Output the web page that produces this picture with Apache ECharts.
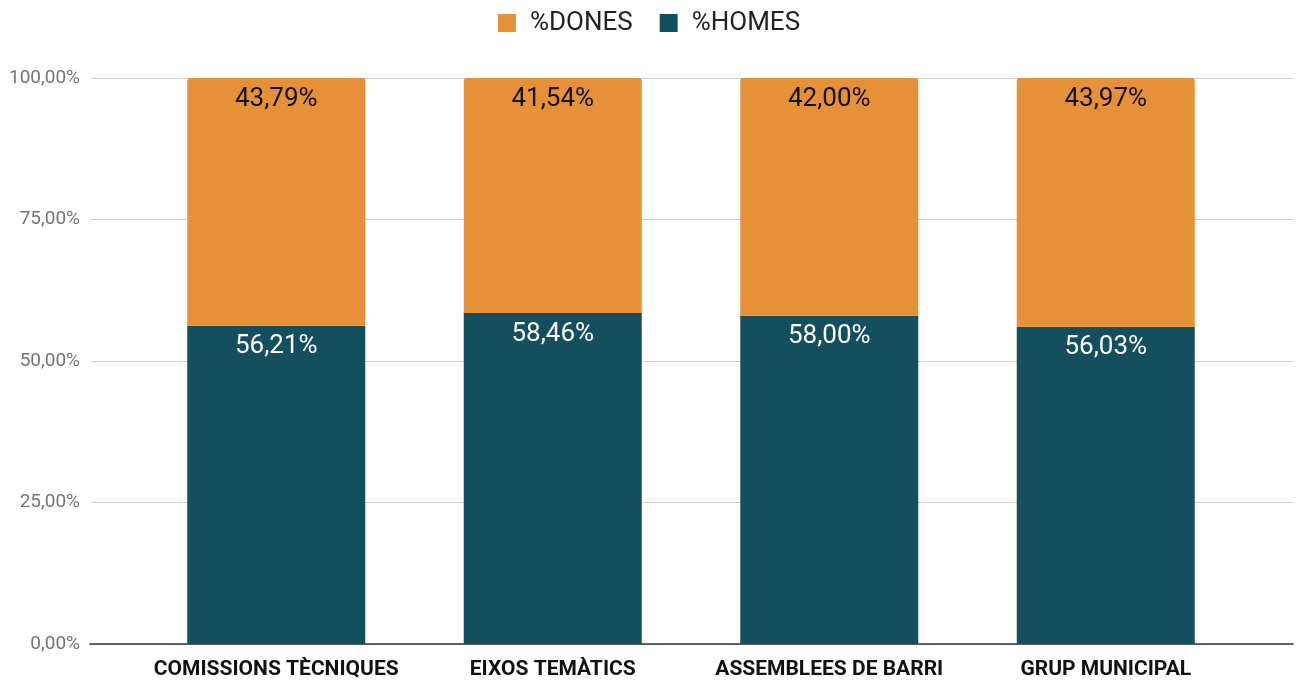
<!DOCTYPE html>
<html>
<head>
<meta charset="utf-8">
<script src="https://cdn.jsdelivr.net/npm/echarts@6/dist/echarts.min.js"></script>
<style>
  html, body { margin: 0; padding: 0; background: #fff; }
  #chart { width: 1298px; height: 682px; }
</style>
</head>
<body>
<div id="chart"></div>
<script>
var categories = ['COMISSIONS TÈCNIQUES', 'EIXOS TEMÀTICS', 'ASSEMBLEES DE BARRI', 'GRUP MUNICIPAL'];
var homes = [56.21, 58.46, 58.00, 56.03];
var dones = [43.79, 41.54, 42.00, 43.97];
var yTicks = [0, 25, 50, 75, 100];

function pct(v) {
	return v.toFixed(2).replace('.', ',') + '%';
}

var chart = echarts.init(document.getElementById('chart'));
var labelBase = {
	show: true,
	position: 'insideTop',
	distance: 8,
	fontSize: 26,
	fontFamily: 'Roboto',
	formatter: function (p) { return pct(p.value); }
};

chart.setOption({
	animation: false,
	textStyle: { fontFamily: 'Roboto' },
	legend: {
		top: 5,
		left: 'center',
		itemWidth: 18,
		itemHeight: 18,
		itemGap: 27,
		icon: 'rect',
		textStyle: { fontSize: 26, color: '#222', fontFamily: 'Roboto', padding: [0, 0, 0, 9] },
		data: ['%DONES', '%HOMES']
	},
	grid: [
		{ left: 90, right: 5, top: 78, bottom: 38 },
		{ left: 138, right: 54, top: 78, bottom: 38 }
	],
	xAxis: [
		{
			gridIndex: 0, type: 'value', min: 0, max: 1,
			axisLine: { show: true, onZero: false, lineStyle: { color: '#333', width: 1.5 } },
			axisTick: { show: false }, axisLabel: { show: false }, splitLine: { show: false }
		},
		{
			gridIndex: 1, type: 'category', data: categories,
			axisLine: { show: false }, axisTick: { show: false },
			axisLabel: { interval: 0, margin: 15, fontSize: 21, fontWeight: 'bold', color: '#111', fontFamily: 'Roboto' }
		}
	],
	yAxis: [
		{
			gridIndex: 0, type: 'value', min: yTicks[0], max: yTicks[yTicks.length - 1], interval: 25,
			axisLine: { show: false }, axisTick: { show: false },
			axisLabel: { margin: 10, fontSize: 19, color: '#757575', formatter: function (v) { return pct(v); } },
			splitLine: { lineStyle: { color: '#cccccc', width: 1 } }
		},
		{
			gridIndex: 1, type: 'value', min: 0, max: 100, show: false
		}
	],
	series: [
		{
			name: '%HOMES', type: 'bar', stack: 'total', xAxisIndex: 1, yAxisIndex: 1,
			barWidth: 178, data: homes,
			itemStyle: { color: '#134f5c' },
			label: Object.assign({}, labelBase, { color: '#ffffff' })
		},
		{
			name: '%DONES', type: 'bar', stack: 'total', xAxisIndex: 1, yAxisIndex: 1,
			barWidth: 178, data: dones,
			itemStyle: { color: '#e69138', borderRadius: [3, 3, 0, 0] },
			label: Object.assign({}, labelBase, { color: '#111111' })
		}
	]
});
</script>
</body>
</html>
